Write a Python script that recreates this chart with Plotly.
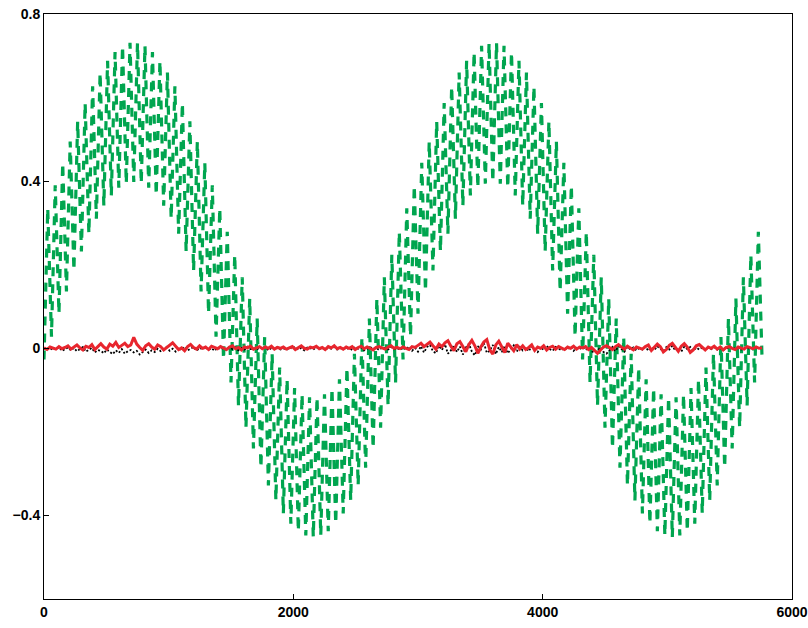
import plotly.graph_objects as go

# ---- data ----
# green: alternating low/high turning points, one every 30 x-units
green_step = 30
green_lower_cycle1 = [-0.027, 0.028, 0.083, 0.136, 0.186, 0.232, 0.274, 0.310, 0.341, 0.366,
                      0.384, 0.394, 0.398, 0.394, 0.384, 0.366, 0.341, 0.310, 0.274, 0.232,
                      0.186, 0.136, 0.083, 0.028, -0.027, -0.082, -0.137, -0.190, -0.240, -0.286,
                      -0.328, -0.364, -0.395, -0.420, -0.438, -0.448, -0.452, -0.448, -0.438, -0.420,
                      -0.395, -0.364, -0.328, -0.286, -0.240, -0.190, -0.137, -0.082]
green_lower_cycle2 = [-0.027, 0.028, 0.083, 0.136, 0.186, 0.232, 0.274, 0.310, 0.341, 0.366,
                      0.384, 0.394, 0.398, 0.394, 0.384, 0.366, 0.341, 0.310, 0.274, 0.232,
                      0.186, 0.136, 0.083, 0.028, -0.027, -0.082, -0.137, -0.190, -0.240, -0.286,
                      -0.328, -0.364, -0.395, -0.420, -0.438, -0.448, -0.452, -0.448, -0.438, -0.420,
                      -0.395, -0.364, -0.328, -0.286, -0.240, -0.190, -0.137, -0.082, -0.027]
green_upper_cycle1 = [0.335, 0.390, 0.444, 0.495, 0.543, 0.587, 0.627, 0.660, 0.688, 0.709,
                      0.724, 0.731, 0.731, 0.724, 0.709, 0.688, 0.660, 0.627, 0.587, 0.543,
                      0.495, 0.444, 0.390, 0.335, 0.279, 0.224, 0.170, 0.119, 0.071, 0.027,
                      -0.013, -0.046, -0.074, -0.095, -0.110, -0.117, -0.117, -0.110, -0.095, -0.074,
                      -0.046, -0.013, 0.027, 0.071, 0.119, 0.170, 0.224, 0.279]
green_upper_cycle2 = [0.335, 0.390, 0.444, 0.495, 0.543, 0.587, 0.627, 0.660, 0.688, 0.709,
                      0.724, 0.731, 0.731, 0.724, 0.709, 0.688, 0.660, 0.627, 0.587, 0.543,
                      0.495, 0.444, 0.390, 0.335, 0.279, 0.224, 0.170, 0.119, 0.071, 0.027,
                      -0.013, -0.046, -0.074, -0.095, -0.110, -0.117, -0.117, -0.110, -0.095, -0.074,
                      -0.046, -0.013, 0.027, 0.071, 0.119, 0.170, 0.224, 0.279]

noise_step = 24
red_values = [
    0.001, -0.003, 0.003, 0.000, -0.002, 0.004, -0.001, 0.002, 0.006, -0.002, 0.003, 0.008, 0.001, -0.004, 0.005, 0.002, 0.009, -0.003, 0.004, 0.011,
    0.003, -0.002, 0.010, 0.005, 0.014, 0.002, 0.007, 0.012, 0.004, 0.008, 0.026, 0.010, 0.002, -0.005, 0.006, 0.011, 0.003, -0.002, 0.008, 0.004,
    -0.004, 0.002, 0.007, 0.013, 0.005, -0.003, 0.001, -0.006, 0.004, 0.009, 0.002, -0.002, 0.006, 0.000, 0.003, -0.003, 0.005, 0.002, -0.001, 0.004,
    0.001, -0.003, 0.003, 0.006, -0.001, 0.002, -0.004, 0.003, 0.001, 0.005, -0.002, 0.002, 0.004, -0.001, 0.003, 0.000, 0.005, -0.002, 0.002, 0.000,
    0.003, -0.002, 0.001, 0.004, -0.003, 0.002, 0.006, 0.000, -0.002, 0.003, 0.001, 0.005, -0.001, 0.002, -0.003, 0.004, 0.001, 0.006, -0.001, 0.002,
    -0.002, 0.003, 0.000, 0.004, -0.003, 0.002, 0.005, -0.001, 0.003, 0.000, -0.004, 0.002, 0.004, 0.001, -0.002, 0.003, 0.006, 0.000, 0.002, -0.001,
    0.003, 0.000, -0.003, 0.004, 0.002, 0.007, 0.012, 0.004, 0.009, 0.015, 0.006, -0.002, 0.010, 0.004, 0.013, 0.018, 0.005, -0.006, 0.011, 0.016,
    0.004, -0.008, 0.009, 0.019, 0.006, -0.012, 0.003, 0.015, 0.021, -0.004, -0.014, 0.008, 0.017, 0.002, -0.010, 0.012, 0.004, -0.006, 0.009, -0.002,
    0.006, -0.003, 0.002, 0.008, -0.005, 0.003, 0.000, 0.006, -0.004, 0.002, 0.005, -0.002, 0.004, 0.001, -0.003, 0.003, 0.000, 0.005, -0.002, 0.003,
    0.001, 0.004, -0.003, 0.002, -0.006, -0.012, -0.004, 0.003, 0.006, 0.001, -0.003, 0.004, 0.009, 0.003, -0.002, 0.005, 0.000, -0.004, 0.003, 0.001,
    -0.002, 0.004, 0.008, -0.005, 0.002, 0.010, 0.004, -0.009, -0.003, 0.007, 0.012, 0.002, -0.007, 0.005, 0.011, 0.003, -0.010, -0.004, 0.006, 0.009,
    0.002, -0.004, 0.003, 0.000, 0.005, -0.002, 0.003, -0.004, 0.002, 0.004, 0.000, -0.003, 0.003, 0.001, -0.002, 0.004, 0.001, -0.001, 0.003, 0.000,
    0.001]
black_values = [
    -0.002, 0.002, -0.004, 0.001, -0.003, 0.003, -0.006, -0.001, 0.002, -0.005, 0.001, -0.007, -0.002, 0.003, -0.008, -0.003, 0.001, -0.010, -0.004, -0.006,
    -0.012, -0.003, -0.009, -0.014, -0.005, -0.011, -0.002, -0.013, -0.007, -0.004, -0.010, -0.006, -0.015, -0.008, -0.003, -0.011, -0.005, -0.009, -0.001, -0.007,
    -0.003, 0.003, -0.006, -0.001, -0.008, 0.002, -0.004, 0.004, -0.005, -0.001, 0.003, -0.006, 0.001, -0.003, 0.004, -0.004, 0.000, -0.006, 0.002, -0.002,
    0.001, -0.004, 0.003, -0.002, 0.002, -0.005, 0.001, -0.003, 0.004, -0.002, 0.000, -0.004, 0.002, -0.001, 0.003, -0.005, 0.001, -0.002, 0.003, -0.003,
    0.000, -0.004, 0.002, -0.001, 0.003, -0.003, 0.001, -0.005, 0.002, 0.000, -0.003, 0.003, -0.002, 0.001, -0.004, 0.002, -0.001, 0.003, -0.003, 0.000,
    0.002, -0.003, 0.001, -0.004, 0.003, -0.001, 0.002, -0.005, 0.000, 0.003, -0.002, 0.001, -0.004, 0.002, 0.000, -0.003, 0.003, -0.002, 0.001, -0.004,
    0.002, -0.003, 0.004, -0.006, 0.001, -0.008, 0.005, -0.010, 0.003, 0.008, -0.007, -0.012, 0.006, -0.004, 0.010, -0.013, -0.005, 0.007, -0.009, 0.004,
    -0.015, 0.002, 0.011, -0.008, -0.017, 0.005, -0.003, 0.013, -0.011, -0.006, 0.008, -0.014, 0.003, -0.009, 0.006, -0.012, -0.002, 0.007, -0.008, 0.003,
    -0.005, 0.002, -0.007, 0.004, -0.003, -0.009, 0.003, -0.004, 0.006, -0.002, -0.006, 0.003, -0.001, -0.005, 0.002, -0.003, 0.004, -0.006, 0.001, -0.002,
    0.003, -0.004, 0.001, -0.007, -0.011, -0.006, 0.002, -0.009, -0.013, -0.004, 0.003, -0.007, 0.005, -0.002, -0.008, 0.004, -0.003, 0.002, -0.005, 0.001,
    -0.003, 0.004, -0.006, 0.002, -0.004, 0.005, -0.002, -0.007, 0.003, -0.003, 0.006, -0.005, 0.001, -0.008, 0.004, -0.002, 0.003, -0.006, 0.002, -0.003,
    0.002, -0.004, 0.001, -0.002, 0.003, -0.003, 0.001, -0.005, 0.002, -0.001, 0.003, -0.002, 0.000, -0.003, 0.002, -0.001, 0.001, -0.002, 0.002, 0.000,
    -0.001]

x_ticks = [0, 2000, 4000, 6000]
y_ticks = [-0.4, 0, 0.4, 0.8]
y_tick_labels = ["\u22120.4", "0", "0.4", "0.8"]

# ---- assemble green series by interleaving turning points ----
green_lower = green_lower_cycle1 + green_lower_cycle2
green_upper = green_upper_cycle1 + green_upper_cycle2
green_y = []
for i in range(len(green_upper)):
    green_y.append(green_lower[i])
    green_y.append(green_upper[i])
green_y.append(green_lower[-1])
green_x = [i * green_step for i in range(len(green_y))]

red_x = [i * noise_step for i in range(len(red_values))]
black_x = [i * noise_step for i in range(len(black_values))]

fig = go.Figure()
fig.add_trace(go.Scatter(x=green_x, y=green_y, mode="lines",
                         line=dict(color="#00a54f", width=3.2, dash="9px,8px"),
                         hoverinfo="skip"))
fig.add_trace(go.Scatter(x=black_x, y=black_values, mode="lines",
                         line=dict(color="black", width=1.8, dash="2px,2px"),
                         hoverinfo="skip"))
fig.add_trace(go.Scatter(x=red_x, y=red_values, mode="lines",
                         line=dict(color="#e8262e", width=3),
                         hoverinfo="skip"))

axis_font = dict(family="Liberation Sans, Arial, sans-serif", size=14, color="black", weight="bold")
fig.update_layout(
    width=808, height=628,
    margin=dict(l=44, r=16, t=14, b=29),
    paper_bgcolor="white", plot_bgcolor="white",
    showlegend=False,
    xaxis=dict(range=[0, 6000], tickvals=x_ticks, ticks="inside", ticklen=5,
               showgrid=False, zeroline=False, showline=True, linecolor="black",
               linewidth=1, mirror=True, tickfont=axis_font, tickcolor="black",
               automargin=False),
    yaxis=dict(range=[-0.6, 0.8], tickvals=y_ticks, ticktext=y_tick_labels,
               ticks="inside", ticklen=5, showgrid=False, zeroline=False,
               showline=True, linecolor="black", linewidth=1, mirror=True,
               tickfont=axis_font, tickcolor="black", automargin=False),
)
fig.write_html("out.html",
               config={"displayModeBar": False},
               post_script="document.body.style.margin='0';"
                           "document.documentElement.style.overflow='hidden';")
